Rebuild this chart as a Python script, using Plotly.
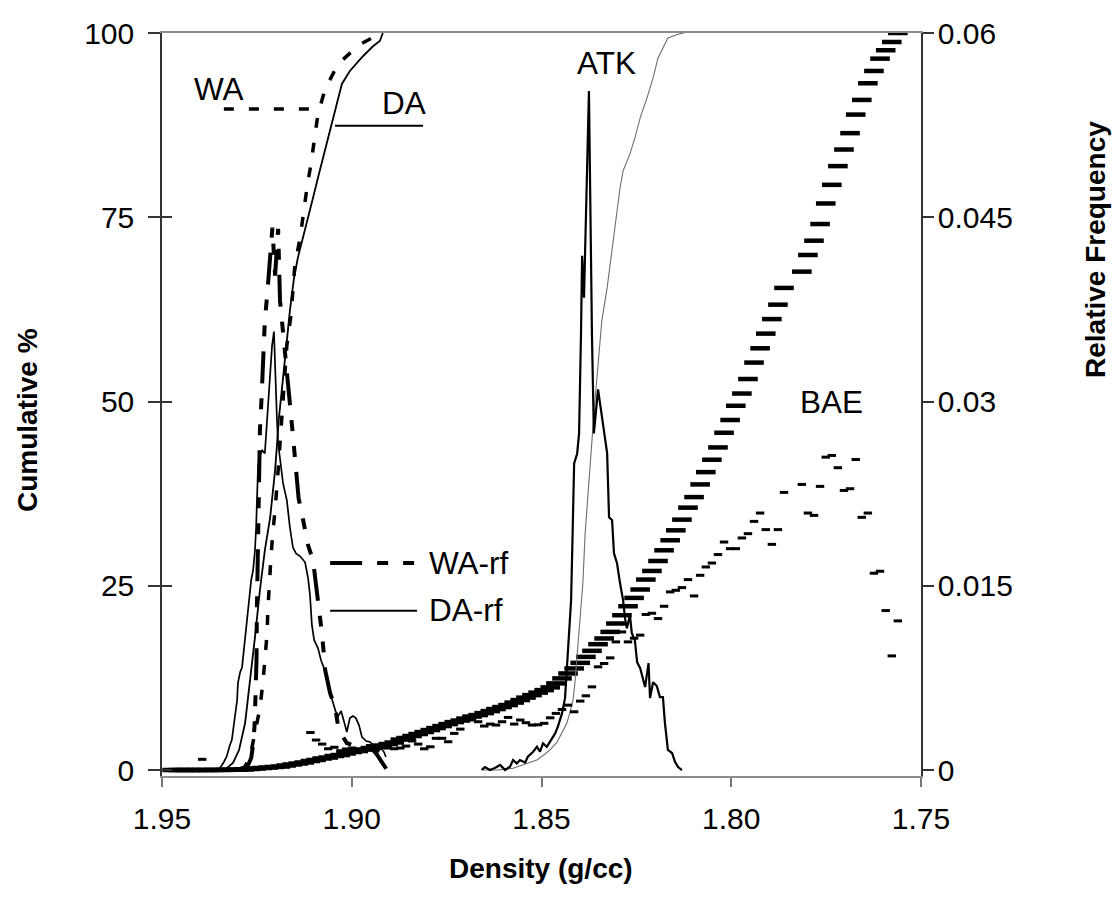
import plotly.graph_objects as go

FONT = "Liberation Sans, Arial, sans-serif"

# ---------------- data ----------------
x_ticks = [1.95, 1.90, 1.85, 1.80, 1.75]
x_tick_text = ["1.95", "1.90", "1.85", "1.80", "1.75"]
cum_ticks = [0, 25, 50, 75, 100]
cum_tick_text = ["0", "25", "50", "75", "100"]
rf_ticks = [0, 0.015, 0.03, 0.045, 0.06]
rf_tick_text = ["0", "0.015", "0.03", "0.045", "0.06"]

# WA cumulative %
wa_cum_density = [1.9294, 1.9281, 1.9268, 1.9255, 1.9242, 1.9234, 1.9229, 1.9223, 1.9221, 1.9218,
                  1.9213, 1.9208, 1.9202, 1.9194, 1.9186, 1.9179, 1.9171, 1.9160, 1.9150, 1.9136,
                  1.9128, 1.9118, 1.9107, 1.9099, 1.9089, 1.9070, 1.9036, 1.8981, 1.8923]
wa_cum = [0, 0.5, 1.76, 5.01, 8.40, 11.92, 15.31, 18.56, 21.82, 25.34,
          28.73, 32.25, 35.23, 40.65, 46.07, 50.81, 57.59, 61.79, 68.43, 72.22,
          75.61, 79.00, 82.38, 85.77, 89.02, 92.41, 95.80, 98.37, 100]

# DA cumulative %
da_cum_density = [1.9339, 1.9326, 1.9313, 1.9297, 1.9281, 1.9268, 1.9255, 1.9242, 1.9229, 1.9215,
                  1.9202, 1.9192, 1.9181, 1.9171, 1.9163, 1.9152, 1.9142, 1.9128, 1.9115, 1.9102,
                  1.9089, 1.9076, 1.9063, 1.9049, 1.9039, 1.9026, 1.9005, 1.8970, 1.8944, 1.8926,
                  1.8918]
da_cum = [0, 0.41, 0.95, 2.71, 6.37, 11.79, 18.02, 24.39, 29.81, 34.28,
          40.65, 47.7, 53.7, 58.27, 62.33, 66.80, 69.51, 72.22, 74.93, 77.64,
          80.35, 83.06, 85.77, 88.48, 90.79, 93.09, 94.85, 96.88, 98.2, 98.92,
          100]

# DA relative frequency
da_rf_density = [1.9358, 1.9347, 1.9337, 1.9330, 1.9321, 1.9316, 1.9308, 1.9302, 1.9300, 1.9294,
                 1.9289, 1.9281, 1.9276, 1.9271, 1.9265, 1.9260, 1.9255, 1.9252, 1.9250, 1.9247,
                 1.9242, 1.9236, 1.9229, 1.9223, 1.9221, 1.9215, 1.9210, 1.9205, 1.9200, 1.9197,
                 1.9194, 1.9189, 1.9181, 1.9171, 1.9163, 1.9155, 1.9147, 1.9136, 1.9123, 1.9115,
                 1.9110, 1.9105, 1.9099, 1.9089, 1.9081, 1.9073, 1.9065, 1.9057, 1.9049, 1.9042,
                 1.9036, 1.9028, 1.9020, 1.9013, 1.9005, 1.8997, 1.8989, 1.8981, 1.8973, 1.8962,
                 1.8952, 1.8941, 1.8931, 1.8923, 1.8915, 1.8910]
da_rf = [0, 0.00016, 0.00065, 0.00106, 0.00203, 0.00244, 0.00431, 0.00569, 0.00707, 0.00797,
         0.00837, 0.01081, 0.01195, 0.01398, 0.01545, 0.01626, 0.01789, 0.01976, 0.02195, 0.02463,
         0.02561, 0.02602, 0.02577, 0.02846, 0.03008, 0.03252, 0.03455, 0.03569, 0.03008, 0.02846,
         0.02659, 0.02520, 0.02333, 0.02195, 0.01976, 0.01813, 0.01764, 0.01740, 0.01691, 0.01561,
         0.01423, 0.01179, 0.01057, 0.00992, 0.00894, 0.00829, 0.00772, 0.00626, 0.00545, 0.00472,
         0.00439, 0.00480, 0.00390, 0.00309, 0.00423, 0.00439, 0.00423, 0.00366, 0.00268, 0.00236,
         0.00228, 0.00195, 0.00146, 0.00179, 0.00146, 0.00106]

# WA relative frequency
wa_rf_density = [1.9305, 1.9284, 1.9273, 1.9265, 1.9260, 1.9256, 1.9254, 1.9251, 1.9250, 1.9248,
                 1.9247, 1.9246, 1.9242, 1.9238, 1.9234, 1.9229, 1.9223, 1.9217, 1.9209, 1.9202,
                 1.9194, 1.9189, 1.9181, 1.9172, 1.9163, 1.9155, 1.9147, 1.9140, 1.9128, 1.9115,
                 1.9102, 1.9089, 1.9078, 1.9070, 1.9057, 1.9044, 1.9036, 1.9023, 1.9013, 1.8991,
                 1.8973, 1.8952, 1.8933, 1.8918, 1.8907]
wa_rf = [0, 0.00016, 0.00041, 0.00098, 0.00203, 0.00366, 0.00569, 0.00894, 0.01301, 0.01707,
         0.02114, 0.02439, 0.02764, 0.03008, 0.03333, 0.03659, 0.03862, 0.04130, 0.04415, 0.04024,
         0.04406, 0.03821, 0.03537, 0.03293, 0.02984, 0.02724, 0.02480, 0.02211, 0.02033, 0.01829,
         0.01707, 0.01382, 0.01098, 0.00813, 0.00626, 0.00512, 0.00358, 0.00268, 0.00220, 0.00195,
         0.00195, 0.00195, 0.00122, 0.00057, 0]

# ATK relative frequency
atk_rf_density = [1.8658, 1.8649, 1.8636, 1.8623, 1.8609, 1.8596, 1.8583, 1.8575, 1.8565, 1.8557,
                  1.8543, 1.8536, 1.8522, 1.8512, 1.8504, 1.8496, 1.8486, 1.8478, 1.8464, 1.8457,
                  1.8446, 1.8438, 1.8433, 1.8428, 1.8422, 1.8418, 1.8414, 1.8406, 1.8401, 1.8396,
                  1.8393, 1.8388, 1.8375, 1.8367, 1.8362, 1.8351, 1.8343, 1.8333, 1.8327, 1.8322,
                  1.8314, 1.8309, 1.8301, 1.8293, 1.8285, 1.8280, 1.8275, 1.8267, 1.8262, 1.8254,
                  1.8248, 1.8240, 1.8233, 1.8227, 1.8218, 1.8214, 1.8206, 1.8196, 1.8188, 1.8180,
                  1.8175, 1.8167, 1.8156, 1.8148, 1.8140, 1.8130]
atk_rf = [0, 0.00024, 0, 0.00016, 0.00041, 0, 0.00027, 0.00081, 0.00054, 0.00081,
          0.00061, 0.00108, 0.00149, 0.00189, 0.00149, 0.00217, 0.00189, 0.00230, 0.00298, 0.00352,
          0.00461, 0.00585, 0.00837, 0.01057, 0.01382, 0.01927, 0.02496, 0.02577, 0.02740, 0.03537,
          0.04187, 0.03845, 0.05528, 0.03537, 0.02740, 0.03098, 0.02927, 0.02683, 0.02577, 0.02057,
          0.02033, 0.01764, 0.01683, 0.01520, 0.01382, 0.01236, 0.01154, 0.01260, 0.01114, 0.01057,
          0.00878, 0.00829, 0.00748, 0.00675, 0.00870, 0.00585, 0.00715, 0.00683, 0.00593, 0.00593,
          0.00390, 0.00163, 0.00138, 0.00065, 0.00024, 0]

# ATK cumulative %
atk_cum_density = [1.8654, 1.8617, 1.8575, 1.8538, 1.8512, 1.8496, 1.8478, 1.8459, 1.8446, 1.8433,
                   1.8425, 1.8417, 1.8412, 1.8406, 1.8399, 1.8391, 1.8385, 1.8377, 1.8367, 1.8359,
                   1.8346, 1.8341, 1.8327, 1.8314, 1.8301, 1.8293, 1.8285, 1.8275, 1.8267, 1.8254,
                   1.8240, 1.8222, 1.8206, 1.8193, 1.8180, 1.8167, 1.8143, 1.8125]
atk_cum = [0, 0, 0.23, 0.91, 1.36, 1.96, 2.71, 3.79, 5.15, 6.37,
           7.86, 9.49, 11.79, 15.58, 20.73, 25.34, 32.11, 38.35, 44.72, 50.14,
           58.27, 60.98, 65.45, 70.87, 75.47, 79.00, 81.30, 82.65, 83.60, 85.77,
           88.48, 91.19, 93.90, 96.61, 97.97, 99.32, 99.8, 100]

# BAE (shared density bins, drawn as dash markers)
bae_density = [1.7561, 1.7577, 1.7593, 1.7608, 1.7624, 1.7640, 1.7656, 1.7672, 1.7687, 1.7703,
               1.7719, 1.7735, 1.7751, 1.7766, 1.7782, 1.7798, 1.7814,
               1.7861, 1.7877, 1.7893, 1.7909, 1.7924, 1.7940, 1.7956, 1.7972, 1.7988, 1.8003,
               1.8019, 1.8035, 1.8051, 1.8067, 1.8082, 1.8098, 1.8114, 1.8130, 1.8146, 1.8161,
               1.8177, 1.8193, 1.8209, 1.8225, 1.8240, 1.8256, 1.8272, 1.8288, 1.8304, 1.8319,
               1.8335, 1.8351, 1.8367, 1.8383, 1.8398, 1.8414, 1.8430, 1.8446, 1.8462, 1.8477,
               1.8493, 1.8509, 1.8525, 1.8541, 1.8556, 1.8572, 1.8588, 1.8604, 1.8620, 1.8635,
               1.8651, 1.8667, 1.8683, 1.8699, 1.8714, 1.8730, 1.8746, 1.8762, 1.8778, 1.8793,
               1.8809, 1.8825, 1.8841, 1.8857, 1.8872, 1.8888, 1.8904, 1.8920, 1.8936, 1.8951,
               1.8967, 1.8983, 1.8999, 1.9015, 1.9030, 1.9046, 1.9062, 1.9078, 1.9094, 1.9109,
               1.9125, 1.9141, 1.9157, 1.9173, 1.9188, 1.9204, 1.9220, 1.9236, 1.9252, 1.9267,
               1.9283, 1.9299, 1.9315, 1.9331, 1.9346, 1.9362, 1.9378, 1.9394, 1.9410, 1.9425,
               1.9441, 1.9457, 1.9473]
bae_cum = [100, 98.78, 97.66, 96.52, 94.85, 93.18, 90.92, 88.93, 86.41, 84.19,
           81.94, 79.40, 76.87, 74.08, 71.82, 69.88, 67.62,
           65.41, 63.14, 61.18, 59.21, 57.22, 55.28, 53.05, 51.08, 49.42, 47.49,
           45.76, 43.77, 42.10, 40.42, 38.75, 37.03, 35.60, 33.97, 32.52, 31.17,
           29.81, 28.36, 27.01, 25.84, 24.49, 23.35, 22.22, 21.00, 19.88, 18.74,
           17.85, 17.07, 16.17, 15.35, 14.54, 13.78, 13.10, 12.43, 11.75, 11.21,
           10.84, 10.50, 10.16, 9.82, 9.49, 9.15, 8.81, 8.54, 8.27, 7.99,
           7.72, 7.45, 7.25, 6.98, 6.71, 6.50, 6.23, 5.96, 5.69, 5.42,
           5.15, 4.88, 4.61, 4.34, 4.13, 3.73, 3.52, 3.32, 3.12, 2.98,
           2.78, 2.57, 2.44, 2.24, 2.03, 1.90, 1.69, 1.56, 1.36, 1.22,
           1.02, 0.88, 0.75, 0.61, 0.47, 0.41, 0.34, 0.27, 0.20, 0.14,
           0.07, 0.05, 0.03, 0.02, 0.01, 0.01, 0, 0, 0, 0,
           0, 0, 0]
bae_rf = [0.01214, 0.00929, 0.01298, 0.01618, 0.01602, 0.02092, 0.02057, 0.02528, 0.02290, 0.02276,
          0.02461, 0.02561, 0.02547, 0.02309, 0.02073, 0.02092, 0.02325,
          0.02260, 0.01957, 0.01837, 0.01957, 0.02092, 0.02024, 0.01924, 0.01889, 0.01802, 0.01802,
          0.01856, 0.01754, 0.01685, 0.01653, 0.01585, 0.01417, 0.01550, 0.01485, 0.01463, 0.01450,
          0.01333, 0.01233, 0.01276, 0.01266, 0.01098, 0.01073, 0.01043, 0.01124, 0.01043, 0.00913,
          0.00867, 0.00840, 0.00677, 0.00604, 0.00561, 0.00474, 0.00528, 0.00493, 0.00461, 0.00425,
          0.00380, 0.00368, 0.00366, 0.00385, 0.00407, 0.00374, 0.00428, 0.00393, 0.00366, 0.00374,
          0.00358, 0.00393, 0.00407, 0.00407, 0.00333, 0.00298, 0.00230, 0.00258, 0.00258, 0.00189,
          0.00173, 0.00211, 0.00236, 0.00195, 0.00179, 0.00173, 0.00179, 0.00203, 0.00179, 0.00163,
          0.00171, 0.00163, 0.00179, 0.00171, 0.00157, 0.00185, 0.00173, 0.00211, 0.00244, 0.00305,
          0.00057, 0.00049, 0.00041, 0.00033, 0.00024, 0.00020, 0.00016, 0.00016, 0.00012, 0.00008,
          0.00008, 0, 0, 0, 0, 0, 0, 0.00087, 0, 0,
          0, 0, 0]

# ---------------- figure ----------------
fig = go.Figure()

WA_CUM_DASH = "10px,15px"
WA_RF_DASH = "32px,15px,11px,15px,11px,15px"

def line(x, y, axis, width, dash="solid", color="black"):
    fig.add_trace(go.Scatter(x=x, y=y, yaxis=axis, mode="lines",
                             line=dict(color=color, width=width, dash=dash),
                             hoverinfo="skip"))

# BAE markers
fig.add_trace(go.Scatter(x=bae_density, y=bae_cum, yaxis="y", mode="markers",
                         marker=dict(symbol="line-ew", size=14, color="black",
                                     line=dict(color="black", width=4.5)),
                         hoverinfo="skip"))
fig.add_trace(go.Scatter(x=bae_density, y=bae_rf, yaxis="y2", mode="markers",
                         marker=dict(symbol="line-ew", size=6, color="black",
                                     line=dict(color="black", width=3)),
                         hoverinfo="skip"))

line(atk_cum_density, atk_cum, "y", 1.1, color="#6e6e6e")
line(atk_rf_density, atk_rf, "y2", 2.2)
line(wa_rf_density, wa_rf, "y2", 4, WA_RF_DASH)
line(da_rf_density, da_rf, "y2", 1.7)
line(wa_cum_density, wa_cum, "y", 3.5, WA_CUM_DASH)
line(da_cum_density, da_cum, "y", 1.8)

# inner half of the crossing ticks on the left axis
fig.add_trace(go.Scatter(x=[None], y=[None], yaxis="y3", showlegend=False))

label_font = dict(family=FONT, size=31.5, color="black")
title_font = dict(family=FONT, size=28, color="black")

def lab(x, y, text, xanchor="center"):
    return dict(x=x, y=y, text=text, xref="x", yref="y", xanchor=xanchor,
                yanchor="middle", showarrow=False, font=label_font)

W, H = 1118, 919
L, R, T, B = 162, 197, 33, 143

def title(px, py, text, angle=0):
    return dict(x=(px - L) / (W - L - R), y=(H - B - py) / (H - T - B),
                text=text, xref="paper", yref="paper", xanchor="center",
                yanchor="middle", showarrow=False, textangle=angle, font=title_font)

annotations = [
    lab(1.9350, 92.4, "WA"),
    lab(1.8862, 90.5, "DA"),
    lab(1.8330, 95.9, "ATK"),
    lab(1.7737, 49.9, "BAE"),
    lab(1.8802, 28.1, "WA-rf", "left"),
    lab(1.8802, 21.7, "DA-rf", "left"),
    title(28, 420, "<b>Cumulative %</b>", -90),
    title(1095, 250, "<b>Relative Frequency</b>", -90),
    title(541, 868, "<b>Density (g/cc)</b>"),
]

shapes = [
    dict(type="line", xref="x", yref="y", x0=1.9337, x1=1.9092, y0=89.7, y1=89.7,
         line=dict(color="black", width=3.5, dash=WA_CUM_DASH)),
    dict(type="line", xref="x", yref="y", x0=1.9044, x1=1.8812, y0=87.4, y1=87.4,
         line=dict(color="black", width=2)),
    dict(type="line", xref="x", yref="y", x0=1.9057, x1=1.8828, y0=28.1, y1=28.1,
         line=dict(color="black", width=4, dash=WA_RF_DASH)),
    dict(type="line", xref="x", yref="y", x0=1.9057, x1=1.8828, y0=21.6, y1=21.6,
         line=dict(color="black", width=2)),
]

fig.update_layout(
    width=W, height=H,
    margin=dict(l=L, r=R, t=T, b=B),
    paper_bgcolor="white", plot_bgcolor="white",
    showlegend=False,
    font=dict(family=FONT, size=30, color="black"),
    annotations=annotations,
    shapes=shapes,
    xaxis=dict(range=[1.95, 1.75], tickvals=x_ticks, ticktext=x_tick_text,
               ticks="outside", ticklen=9, tickwidth=1.5, tickcolor="#777",
               showline=True, linecolor="#8c8c8c", linewidth=2, mirror=True,
               showgrid=False, zeroline=False, ticklabelstandoff=6,
               tickfont=dict(family=FONT, size=30)),
    yaxis=dict(range=[-0.814, 100], tickvals=cum_ticks, ticktext=cum_tick_text,
               ticks="outside", ticklen=12, tickwidth=1.5, tickcolor="#333",
               showline=True, linecolor="#333", linewidth=1.5,
               showgrid=False, zeroline=False, ticklabelstandoff=8,
               tickfont=dict(family=FONT, size=30)),
    yaxis2=dict(range=[-0.000488, 0.06], tickvals=rf_ticks, ticktext=rf_tick_text,
                overlaying="y", side="right",
                ticks="outside", ticklen=11, tickwidth=1.5, tickcolor="#333",
                showline=True, linecolor="#333", linewidth=1.5,
                showgrid=False, zeroline=False, ticklabelstandoff=-2,
                tickfont=dict(family=FONT, size=30)),
    yaxis3=dict(range=[-0.814, 100], tickvals=cum_ticks, overlaying="y", side="left",
                ticks="inside", ticklen=10, tickwidth=1.5, tickcolor="#333",
                showticklabels=False, showline=False, showgrid=False, zeroline=False),
)

fig.write_html("out.html", config={"displayModeBar": False},
               post_script="document.body.style.margin='0px';")
